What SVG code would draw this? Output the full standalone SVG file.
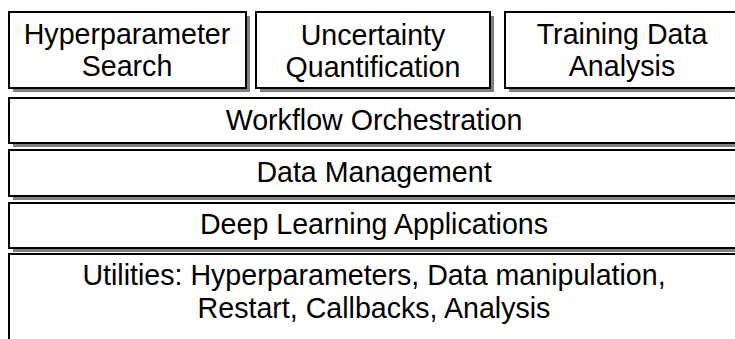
<svg xmlns="http://www.w3.org/2000/svg" width="735" height="339" viewBox="0 0 735 339">
<style>
.box{fill:#ffffff;stroke:#000000;stroke-width:2}
.sh{fill:#808080;stroke:none}
text{font-family:"Liberation Sans",Arial,sans-serif;font-size:28.6px;fill:#000000;text-anchor:middle}
</style>
<rect width="735" height="339" fill="#ffffff"/>
<g id="hyperparameter-search">
<rect class="sh" x="13" y="16" width="237" height="76"/>
<rect class="box" x="9" y="12" width="237" height="76"/>
<text x="127" y="44">Hyperparameter</text>
<text x="127" y="76">Search</text>
</g>
<g id="uncertainty-quantification">
<rect class="sh" x="260" y="16" width="234" height="76"/>
<rect class="box" x="256" y="12" width="234" height="76"/>
<text x="373" y="45">Uncertainty</text>
<text x="373" y="77">Quantification</text>
</g>
<g id="training-data-analysis">
<rect class="sh" x="509" y="16" width="235" height="76"/>
<rect class="box" x="505" y="12" width="235" height="76"/>
<text x="622" y="44">Training Data</text>
<text x="622" y="76">Analysis</text>
</g>
<g id="workflow-orchestration">
<rect class="sh" x="13" y="102" width="731" height="45"/>
<rect class="box" x="9" y="98" width="731" height="45"/>
<text x="374" y="130">Workflow Orchestration</text>
</g>
<g id="data-management">
<rect class="sh" x="13" y="154" width="731" height="46"/>
<rect class="box" x="9" y="150" width="731" height="46"/>
<text x="374" y="182">Data Management</text>
</g>
<g id="deep-learning-applications">
<rect class="sh" x="13" y="207" width="731" height="45"/>
<rect class="box" x="9" y="203" width="731" height="45"/>
<text x="374" y="234">Deep Learning Applications</text>
</g>
<g id="utilities">
<rect class="sh" x="13" y="258" width="731" height="100"/>
<rect class="box" x="9" y="254" width="731" height="100"/>
<text x="374" y="285">Utilities: Hyperparameters, Data manipulation,</text>
<text x="374" y="318">Restart, Callbacks, Analysis</text>
</g>
<g id="connectors"></g>
</svg>
